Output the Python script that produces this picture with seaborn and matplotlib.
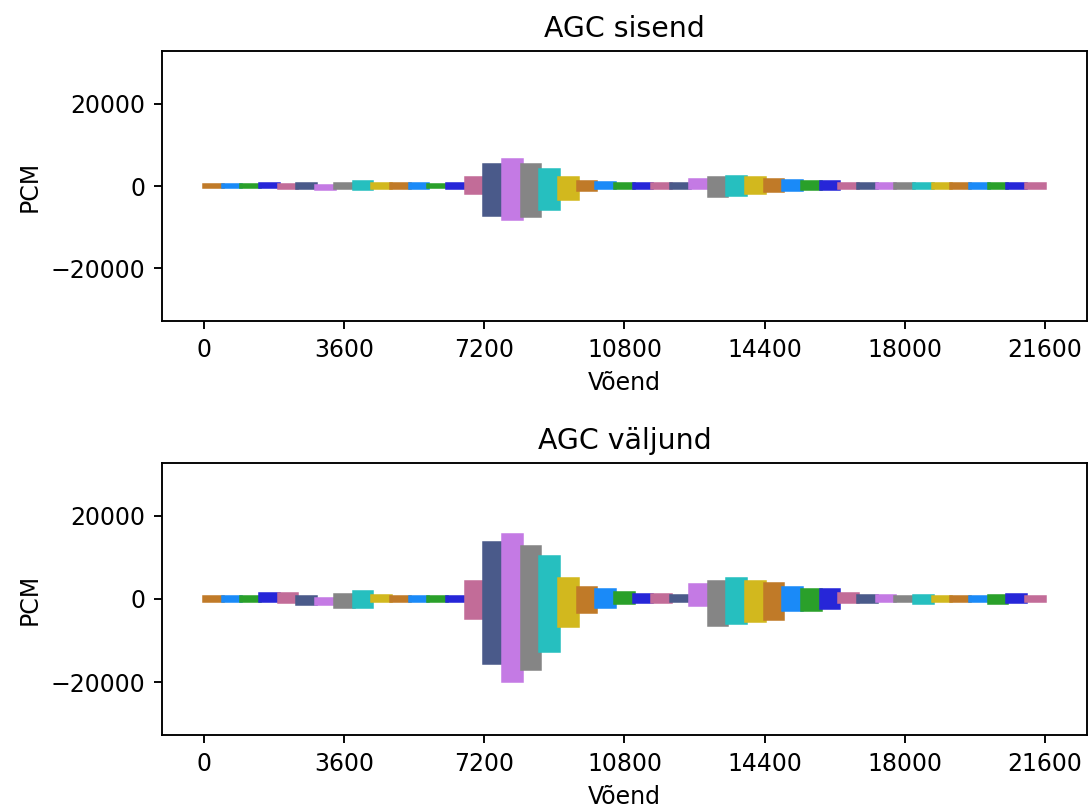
import matplotlib
matplotlib.use("Agg")
import matplotlib.pyplot as plt
import pandas as pd
import seaborn as sns

# one block = 480 samples (10 ms at 48 kHz), 45 blocks
block_len = 480
block_colors = ["#c07a28", "#1a8af8", "#2aa02a", "#2626d8", "#c26c98",
                "#4a5a8a", "#c47ae4", "#858585", "#26bfbf", "#d2b81e"]

# per-block peak values (upper / lower envelope)
in_top = [300, 350, 300, 600, 300, 400, 100, 600, 900, 400,
          400, 400, 350, 400, 1900, 5000, 6300, 5000, 3800, 2000,
          1000, 700, 500, 400, 400, 400, 1500, 1900, 2200, 1900,
          1500, 1200, 900, 900, 500, 400, 400, 400, 400, 400,
          400, 400, 400, 400, 400]
in_bot = [-300, -350, -300, -300, -400, -400, -700, -600, -700, -400,
          -400, -400, -350, -400, -1600, -7000, -8000, -7200, -5500, -3200,
          -1000, -600, -500, -400, -400, -400, -500, -2500, -2200, -1700,
          -1200, -900, -700, -700, -500, -400, -400, -400, -400, -400,
          -400, -400, -400, -400, -400]

out_top = [400, 500, 400, 1300, 1200, 600, -100, 1000, 1700, 800,
           500, 600, 500, 600, 4000, 13500, 15500, 12500, 10000, 4800,
           2700, 2200, 1500, 1000, 1000, 700, 3400, 4100, 4800, 4000,
           3600, 2600, 2200, 2200, 1200, 800, 800, 500, 700, 500,
           500, 600, 700, 1000, 500]
out_bot = [-400, -500, -400, -500, -700, -1200, -1300, -1900, -1900, -600,
           -500, -600, -500, -600, -4600, -15500, -19800, -16800, -12500, -6500,
           -3100, -1900, -1000, -700, -700, -500, -1400, -6300, -5800, -5300,
           -4800, -2700, -2600, -2200, -700, -700, -500, -500, -1000, -500,
           -500, -600, -900, -700, -500]

x_ticks = [0, 3600, 7200, 10800, 14400, 18000, 21600]
y_ticks = [-20000, 0, 20000]


def block_frame(top, bot):
    rows = []
    for i in range(len(top)):
        start = i * block_len
        # blocks touch: each one runs up to where the next one starts
        for x in (start, start + block_len):
            rows.append((f"b{i:02d}", x, top[i]))
            rows.append((f"b{i:02d}", x, bot[i]))
    return pd.DataFrame(rows, columns=["block", "sample", "pcm"])


n_blocks = len(in_top)
palette = {f"b{i:02d}": block_colors[i % len(block_colors)] for i in range(n_blocks)}

fig, axes = plt.subplots(2, 1, figsize=(1089 / 170, 807 / 170), dpi=170)
axes[0].set_position([0.1488, 0.6022, 0.8492, 0.3346])
axes[1].set_position([0.1488, 0.0892, 0.8492, 0.3371])

for ax, title, top, bot in [(axes[0], "AGC sisend", in_top, in_bot),
                            (axes[1], "AGC väljund", out_top, out_bot)]:
    df = block_frame(top, bot)
    # band between min and max of each block = the waveform envelope
    sns.lineplot(data=df, x="sample", y="pcm", hue="block", palette=palette,
                 estimator="mean", errorbar=("pi", 100),
                 err_kws={"alpha": 1, "linewidth": 1.5},
                 linewidth=0, legend=False, ax=ax)
    for band in ax.collections:
        band.set_joinstyle("miter")
    ax.set_xlim(-1080, n_blocks * block_len - 1 + 1080)
    ax.set_ylim(-32768, 32767)
    ax.set_xticks(x_ticks)
    ax.set_yticks(y_ticks)
    ax.set_title(title)
    ax.set_xlabel("Võend")
    ax.set_ylabel("PCM")

fig.savefig("out.png", dpi=170)
